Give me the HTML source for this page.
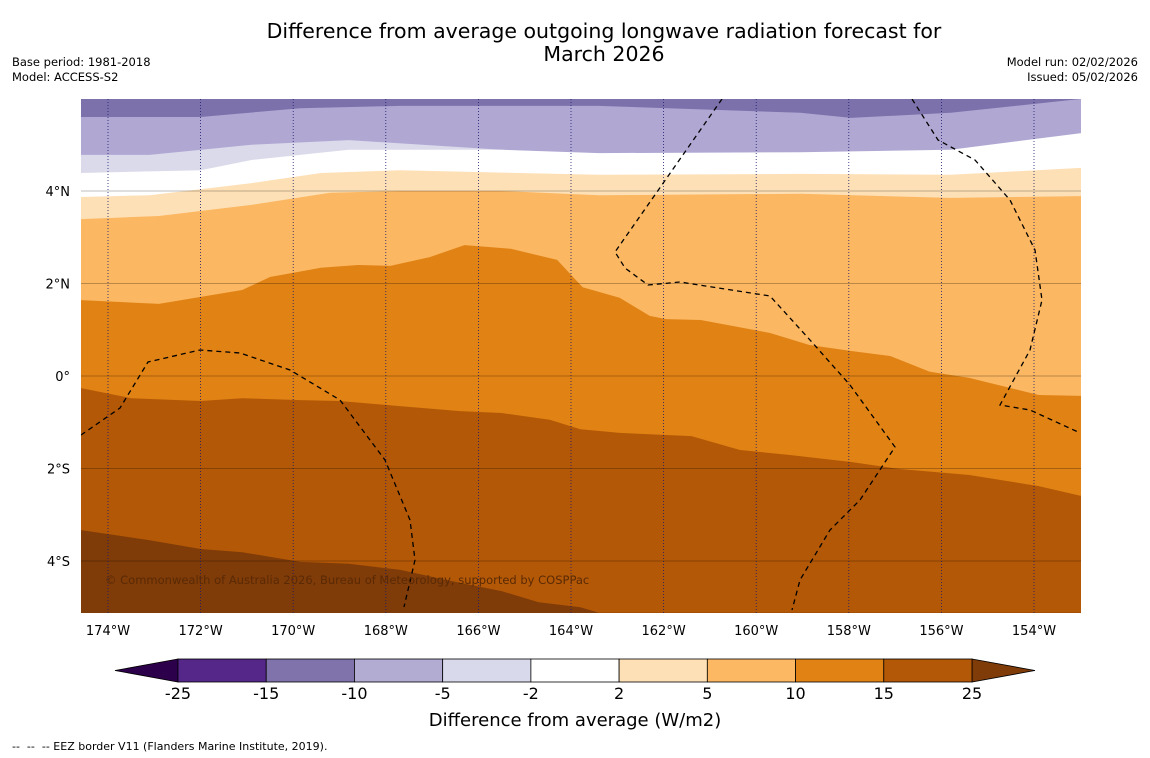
<!DOCTYPE html>
<html><head><meta charset="utf-8">
<style>
body{margin:0;background:#fff;font-family:"DejaVu Sans",sans-serif;}
#wrap{position:relative;width:1150px;height:758px;overflow:hidden;background:#fff;}
.t{position:absolute;font-size:11.5px;color:#000;font-family:"DejaVu Sans",sans-serif;}
</style></head>
<body>
<div id="wrap">
<div class="t" style="left:150px;width:908px;top:20px;text-align:center;font-size:20.5px;line-height:23px;">Difference from average outgoing longwave radiation forecast for<br>March 2026</div>
<div class="t" style="left:12px;top:55px;">Base period: 1981-2018</div>
<div class="t" style="left:12px;top:70px;">Model: ACCESS-S2</div>
<div class="t" style="right:12px;top:55px;text-align:right;">Model run: 02/02/2026</div>
<div class="t" style="right:12px;top:70px;text-align:right;">Issued: 05/02/2026</div>
<div class="t" style="left:12px;top:740px;font-size:11px;">--&nbsp; --&nbsp; -- EEZ border V11 (Flanders Marine Institute, 2019).</div>
<svg id="svg" width="1150" height="758" style="position:absolute;left:0;top:0"></svg>
</div>
<script>
// Contour boundaries: longitudes (deg, negative = W) and latitudes (deg)
const lonA=[-174.6,-172.0,-169.85,-167.7,-163.4,-159.05,-157.95,-155.8,-153.0];
const latA=[5.6,5.6,5.79,5.84,5.84,5.69,5.58,5.69,5.99];
const lonB=[-174.6,-173.1,-170.9,-168.8,-165.5,-163.4,-159.05,-155.8,-153.0];
const latB=[4.78,4.78,5.0,5.1,4.89,4.78,4.78,4.78,5.0];
const lonC=[-174.6,-172.0,-170.9,-168.8,-165.5,-163.4,-159.05,-155.8,-153.0];
const latC=[4.39,4.45,4.67,4.89,4.89,4.82,4.84,4.89,5.25];
const lonD=[-174.6,-173.1,-170.9,-169.4,-167.7,-163.4,-159.05,-155.8,-153.0];
const latD=[3.87,3.91,4.17,4.39,4.45,4.35,4.37,4.35,4.5];
const lonE=[-174.6,-172.9,-170.9,-169.2,-167.7,-165.5,-163.4,-159.05,-155.8,-153.0];
const latE=[3.39,3.46,3.7,3.96,4.0,4.0,3.91,3.94,3.85,3.89];
const lonF=[-174.6,-172.9,-171.1,-170.5,-169.4,-168.6,-167.9,-167.05,-166.3,-165.3,-164.3,-163.75,-162.95,-162.3,-161.95,-161.2,-159.7,-158.85,-157.95,-157.1,-156.25,-155.4,-153.9,-153.0];
const latF=[1.64,1.56,1.86,2.14,2.34,2.4,2.38,2.57,2.83,2.75,2.51,1.92,1.69,1.3,1.23,1.21,0.93,0.67,0.54,0.43,0.09,-0.04,-0.41,-0.43];
const lonG=[-174.6,-173.5,-172.0,-171.1,-169.85,-169.0,-167.7,-166.4,-165.5,-164.45,-163.8,-162.95,-161.4,-160.35,-159.25,-157.95,-156.9,-155.4,-153.9,-153.0];
const latG=[-0.26,-0.48,-0.54,-0.48,-0.52,-0.54,-0.65,-0.76,-0.8,-0.95,-1.15,-1.23,-1.3,-1.6,-1.71,-1.86,-2.01,-2.14,-2.38,-2.59];
const lonH=[-174.6,-173.1,-172.0,-171.1,-169.85,-168.8,-167.7,-166.6,-165.5,-164.7,-163.8,-163.4];
const latH=[-3.33,-3.55,-3.74,-3.81,-4.02,-4.06,-4.19,-4.43,-4.65,-4.89,-5.0,-5.12];
const bandColors=['#7d71ab','#b0a8d3','#dadaeb','#ffffff','#fee0b6','#fbb761','#e08214','#b35806','#7f3b08'];
const lonTicks=[-174,-172,-170,-168,-166,-164,-162,-160,-158,-156,-154];
const latTicks=[4,2,0,-2,-4];
const cbLevels=[-25,-15,-10,-5,-2,2,5,10,15,25];
const cbColors=['#542788','#8073ac','#b2abd2','#d8daeb','#ffffff','#fee0b6','#fdb863','#e08214','#b35806'];

const NS='http://www.w3.org/2000/svg';
const FF='DejaVu Sans, sans-serif';
const svg=document.getElementById('svg');
const PX0=81,PX1=1081,PY0=99,PY1=613;
const xS=lon=>108+(lon+174)*46.3;
const yS=lat=>376-lat*46.25;
function mk(tag,attrs,parent){const e=document.createElementNS(NS,tag);for(const k in attrs)e.setAttribute(k,attrs[k]);(parent||svg).appendChild(e);return e;}
const defs=mk('defs',{});
const cp=mk('clipPath',{id:'clip'},defs);
mk('rect',{x:PX0,y:PY0,width:PX1-PX0,height:PY1-PY0},cp);
const g=mk('g',{'clip-path':'url(#clip)'});
const bg=mk('rect',{x:PX0,y:PY0,width:PX1-PX0,height:PY1-PY0,fill:bandColors[0]},g);


const bounds=[[lonA,latA],[lonB,latB],[lonC,latC],[lonD,latD],[lonE,latE],[lonF,latF],[lonG,latG],[lonH,latH]];
const bandNames=['band-minus10-minus5','band-minus5-minus2','band-minus2-2','band-2-5','band-5-10','band-10-15','band-15-25','band-above-25'];
bounds.forEach((b,i)=>{
  const [lo,la]=b;
  let d='M'+(PX0-5)+','+yS(la[0]);
  for(let k=0;k<lo.length;k++)d+=' L'+xS(lo[k]).toFixed(1)+','+yS(la[k]).toFixed(1);
  const lastX=Math.max(xS(lo[lo.length-1]),PX1+5);
  d+=' L'+lastX+','+yS(la[la.length-1])+' L'+lastX+','+(PY1+5)+' L'+(PX0-5)+','+(PY1+5)+'Z';
  const p=mk('path',{d:d,fill:bandColors[i+1]},g);
  
  
});
latTicks.forEach(l=>{
  const ln=mk('line',{x1:PX0,x2:PX1,y1:yS(l),y2:yS(l),stroke:'#000','stroke-opacity':0.35,'stroke-width':0.8},g);
  
  
  const t=mk('text',{x:70,y:yS(l)+5,'text-anchor':'end','font-size':13,'font-family':FF});
  t.textContent=l===0?'0°':Math.abs(l)+'°'+(l>0?'N':'S');
  
  
});
lonTicks.forEach(l=>{
  const ln=mk('line',{x1:xS(l),x2:xS(l),y1:PY0,y2:PY1,stroke:'#1a1a6e','stroke-width':0.8,'stroke-dasharray':'1,2'},g);
  
  
  const t=mk('text',{x:xS(l),y:635,'text-anchor':'middle','font-size':13,'font-family':FF});
  t.textContent=Math.abs(l)+'°W';
  
  
});
const eez=['M81,435 L120,408 L148,362 L200,350 L240,353 L290,370 L340,400 L385,460 L410,520 L415,560 L404,607',
'M722,99 L615,252 L625,268 L648,285 L680,282 L770,296 L810,340 L850,385 L895,447 L860,500 L830,530 L800,580 L792,610',
'M912,99 L938,140 L975,160 L1010,200 L1035,250 L1042,300 L1030,350 L1000,405 L1030,410 L1078,432'];
eez.forEach(d=>{
  const p=mk('path',{d:d,fill:'none',stroke:'#000','stroke-width':1.3,'stroke-dasharray':'5,4'},g);
  
  
});
const cr=mk('text',{x:105,y:584,'font-size':11.5,fill:'#5a2a05','font-family':FF},g);
cr.textContent='© Commonwealth of Australia 2026, Bureau of Meteorology, supported by COSPPac';


const cbX0=178,cbX1=972,cbY=659,cbH=23,seg=(cbX1-cbX0)/(cbLevels.length-1);
const lt=mk('polygon',{points:`${cbX0},${cbY} 115,${cbY+cbH/2} ${cbX0},${cbY+cbH}`,fill:'#2d004b',stroke:'#000','stroke-width':0.8});


const rt=mk('polygon',{points:`${cbX1},${cbY} 1035,${cbY+cbH/2} ${cbX1},${cbY+cbH}`,fill:'#7f3b08',stroke:'#000','stroke-width':0.8});


cbColors.forEach((c,i)=>{
  const r=mk('rect',{x:cbX0+i*seg,y:cbY,width:seg,height:cbH,fill:c,stroke:'#000','stroke-width':0.8});
  
  
});
cbLevels.forEach((v,i)=>{
  const t=mk('text',{x:cbX0+i*seg,y:699,'text-anchor':'middle','font-size':16,'font-family':FF});
  t.textContent=v;
  
  
});
const ct=mk('text',{x:575,y:726,'text-anchor':'middle','font-size':18,'font-family':FF});
ct.textContent='Difference from average (W/m2)';


</script>
</body></html>
